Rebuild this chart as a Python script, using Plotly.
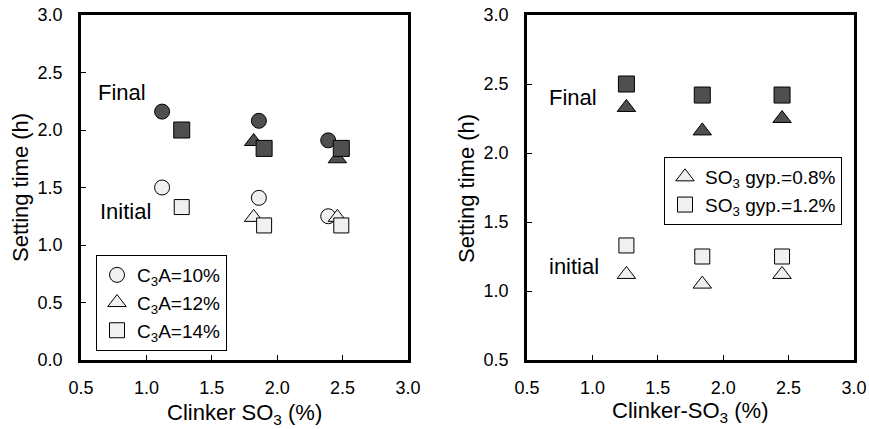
import plotly.graph_objects as go

# ---- Left panel: setting time vs clinker SO3 for three C3A levels ----
c10_x = [1.12, 1.86, 2.39]
c10_final = [2.16, 2.08, 1.91]
c10_initial = [1.50, 1.41, 1.25]

c12_x = [1.82, 2.46]
c12_final = [1.90, 1.75]
c12_initial = [1.24, 1.24]

c14_x = [1.27, 1.90, 2.49]
c14_final = [2.00, 1.84, 1.84]
c14_initial = [1.33, 1.17, 1.17]

# ---- Right panel: setting time vs clinker-SO3 for two gypsum SO3 levels ----
g08_x = [1.26, 1.84, 2.45]
g08_final = [2.33, 2.16, 2.25]
g08_initial = [1.12, 1.05, 1.12]

g12_x = [1.26, 1.84, 2.45]
g12_final = [2.50, 2.42, 2.42]
g12_initial = [1.33, 1.25, 1.25]

FONT = "Liberation Sans, Arial, sans-serif"
DARK = "#4f4f4f"
LIGHT = "#f0f0f0"
W, H = 869, 429


def px_x(p):
    return p / W


def px_y(p):
    return 1 - p / H


def pts(x, y, symbol, size, fill, name, xa, ya, legend, show, group):
    return go.Scatter(
        x=x, y=y, mode="markers", name=name,
        xaxis=xa, yaxis=ya, legend=legend, showlegend=show, legendgroup=group,
        marker=dict(symbol=symbol, size=size, color=fill,
                    line=dict(color="black", width=1)),
        hoverinfo="x+y",
    )


fig = go.Figure()

# left panel: circles, then triangles, then squares (drawing order)
fig.add_trace(pts(c10_x, c10_final, "circle", 15, DARK, "", "x", "y", "legend", False, "a"))
fig.add_trace(pts(c10_x, c10_initial, "circle", 15, LIGHT, "C<sub>3</sub>A=10%", "x", "y", "legend", True, "a"))
fig.add_trace(pts(c12_x, c12_final, "triangle-up", 16, DARK, "", "x", "y", "legend", False, "b"))
fig.add_trace(pts(c12_x, c12_initial, "triangle-up", 16, LIGHT, "C<sub>3</sub>A=12%", "x", "y", "legend", True, "b"))
fig.add_trace(pts(c14_x, c14_final, "square", 16, DARK, "", "x", "y", "legend", False, "c"))
fig.add_trace(pts(c14_x, c14_initial, "square", 15, LIGHT, "C<sub>3</sub>A=14%", "x", "y", "legend", True, "c"))

# right panel
fig.add_trace(pts(g08_x, g08_final, "triangle-up", 16, DARK, "", "x2", "y2", "legend2", False, "d"))
fig.add_trace(pts(g08_x, g08_initial, "triangle-up", 16, LIGHT, "SO<sub>3</sub> gyp.=0.8%", "x2", "y2", "legend2", True, "d"))
fig.add_trace(pts(g12_x, g12_final, "square", 16, DARK, "", "x2", "y2", "legend2", False, "e"))
fig.add_trace(pts(g12_x, g12_initial, "square", 15, LIGHT, "SO<sub>3</sub> gyp.=1.2%", "x2", "y2", "legend2", True, "e"))

axis_common = dict(
    showline=True, mirror=True, linecolor="black", linewidth=2.5,
    ticks="inside", ticklen=5, tickwidth=1, tickcolor="black",
    showgrid=False, zeroline=False, dtick=0.5, tickformat=".1f",
    automargin=False,
    tickfont=dict(family=FONT, size=18, color="black"),
)

left_dom = [px_x(81), px_x(408)]
right_dom = [px_x(527), px_x(854)]
y_dom = [px_y(360), px_y(15)]

fig.update_layout(
    width=W, height=H,
    margin=dict(l=0, r=0, t=0, b=0),
    paper_bgcolor="white", plot_bgcolor="white",
    font=dict(family=FONT, color="black"),
    xaxis=dict(domain=left_dom, range=[0.5, 3.0], anchor="y",
               ticklabelstandoff=10, **axis_common),
    yaxis=dict(domain=y_dom, range=[0.0, 3.0], anchor="x",
               ticklabelstandoff=12, **axis_common),
    xaxis2=dict(domain=right_dom, range=[0.5, 3.0], anchor="y2",
                ticklabelstandoff=10, **axis_common),
    yaxis2=dict(domain=y_dom, range=[0.5, 3.0], anchor="x2",
                ticklabelstandoff=12, **axis_common),
    legend=dict(
        x=px_x(96), y=px_y(255), xanchor="left", yanchor="top",
        bordercolor="black", borderwidth=1, bgcolor="white",
        font=dict(family=FONT, size=19), itemsizing="trace",
        tracegroupgap=0, traceorder="grouped",
    ),
    legend2=dict(
        x=px_x(664), y=px_y(157), xanchor="left", yanchor="top",
        bordercolor="black", borderwidth=1, bgcolor="white",
        font=dict(family=FONT, size=19), itemsizing="trace",
        tracegroupgap=0, traceorder="grouped",
    ),
)

ann_font = dict(family=FONT, size=22, color="black")


def label(x, y, text, xref, yref, angle=0):
    return dict(x=x, y=y, xref=xref, yref=yref, text=text, textangle=angle,
                xanchor="center", yanchor="middle", showarrow=False, font=ann_font)


annotations = [
    # stage labels inside the panels
    label(0.81, 2.33, "Final", "x", "y"),
    label(0.84, 1.29, "Initial", "x", "y"),
    label(0.85, 2.40, "Final", "x2", "y2"),
    label(0.86, 1.18, "initial", "x2", "y2"),
    # axis titles
    label(px_x(244), px_y(414), "Clinker SO<sub>3</sub> (%)", "paper", "paper"),
    label(px_x(690), px_y(412), "Clinker-SO<sub>3</sub> (%)", "paper", "paper"),
    label(px_x(20), px_y(188), "Setting time (h)", "paper", "paper", -90),
    label(px_x(466), px_y(188), "Setting time (h)", "paper", "paper", -90),
]
fig.update_layout(annotations=annotations)

fig.write_html("out.html")
